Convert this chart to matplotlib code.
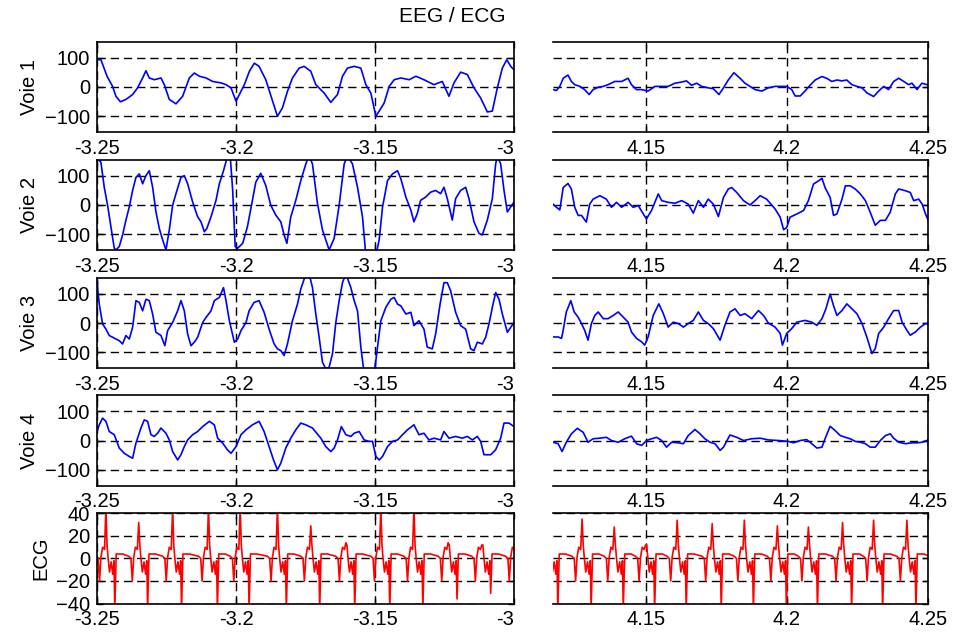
import numpy as np
import matplotlib.pyplot as plt

plt.rcParams['font.family'] = ['Liberation Sans', 'DejaVu Sans']

# time windows (s); trace times are stored as ms from the window start
LEFT_T0 = -3.25
RIGHT_T0 = 4.1171
LEFT_XLIM = (-3.25, -3.1)
RIGHT_XLIM = (4.1171, 4.25)
LEFT_TICKS = [-3.25, -3.2, -3.15, -3.1]
LEFT_TICK_LABELS = ["-3.25", "-3.2", "-3.15", "-3"]
RIGHT_TICKS = [4.15, 4.2, 4.25]
RIGHT_TICK_LABELS = ["4.15", "4.2", "4.25"]

CHANNELS = ["Voie 1", "Voie 2", "Voie 3", "Voie 4", "ECG"]
EEG_TICKS = [-100, 0, 100]
ECG_TICKS = [-40, -20, 0, 20, 40]

# EEG traces: (ms from window start, value)
V1_LEFT = [(0, 94), (1.4, 94), (3.6, 37), (5.6, 2), (6.8, -32), (8.4, -51), (10.4, -43), (12.8, -26),
           (14.6, -3), (16.4, 31), (17.6, 56), (18.8, 31), (20.6, 25), (23.0, 31), (24.2, 8), (26.0, -43),
           (28.4, -58), (30.8, -32), (33.2, 31), (35.0, 48), (36.8, 37), (39.2, 31), (41.6, 19), (44.6, 14),
           (46.4, 8), (48.2, -3), (50.0, -49), (51.2, -26), (53.0, 8), (54.8, 54), (56.6, 82), (58.3, 71),
           (60.7, 25), (62.8, -38), (64.9, -101), (66.7, -72), (68.5, -15), (70.3, 31), (72.7, 65), (74.5, 71),
           (76.9, 54), (78.7, 8), (81.7, -21), (84.1, -53), (86.5, -26), (88.3, 37), (90.1, 65), (92.5, 71),
           (94.9, 65), (96.7, 8), (98.5, -21), (100.3, -101), (101.5, -83), (103.3, -55), (105.1, 2),
           (106.9, 25), (109.3, 31), (112.3, 25), (114.7, 37), (117.6, 25), (121.2, 8), (124.2, 19),
           (126.6, -32), (128.4, 14), (130.8, 51), (133.2, 43), (135.6, -3), (138.0, -38), (140.4, -86),
           (142.2, -83), (144.0, -3), (145.8, 65), (147.4, 94), (148.8, 71), (150.0, 59)]
V1_RIGHT = [(0, -9), (1.2, -12), (2.4, 2), (3.6, 30), (5.3, 41), (6.5, 19), (7.7, 8), (9.5, 2), (11.2, -9),
            (12.8, -26), (14.2, -9), (16.0, -1), (17.8, 2), (19.5, 8), (21.9, 19), (24.3, 19), (26.6, 30),
            (27.8, 8), (29.6, -9), (31.4, -9), (33.7, -14), (36.1, 2), (38.5, 2), (40.8, 2), (43.2, 13),
            (45.6, 17), (47.3, 21), (49.1, 6), (50.9, 13), (52.7, 2), (55.0, -3), (56.8, -6), (58.8, -26),
            (60.4, -3), (62.1, 24), (64.1, 49), (66.3, 30), (68.0, 13), (69.8, 2), (71.6, -9), (74.0, -14),
            (76.3, -3), (78.7, 2), (81.1, 2), (82.8, 2), (84.6, -9), (85.8, -31), (87.6, -31), (89.3, -14),
            (91.1, 6), (92.9, 24), (95.3, 36), (97.0, 30), (98.8, 19), (100.6, 24), (102.4, 21), (104.1, 24),
            (105.9, 8), (107.7, 2), (109.5, -3), (111.2, -20), (113.6, -33), (115.4, -14), (117.2, 2),
            (118.9, -9), (120.7, 19), (122.5, 30), (124.3, 19), (126.0, 8), (127.2, 13), (129.0, -9),
            (130.7, 13), (132.5, 8), (133.4, 8)]

V2_LEFT = [(0, 170), (0.2, 160), (1.4, 147), (2.6, 61), (3.8, -1), (5.0, -75), (6.2, -149), (6.8, -155),
           (8.0, -143), (9.2, -103), (10.4, -52), (11.6, -7), (12.8, 50), (14.0, 95), (15.2, 107), (16.4, 73),
           (17.6, 101), (18.8, 118), (20.0, 61), (21.2, -24), (22.4, -81), (23.6, -120), (24.8, -155),
           (26.0, -86), (27.2, -1), (28.4, 39), (30.2, 95), (31.4, 101), (32.6, 73), (34.4, 10), (36.2, -41),
           (37.4, -58), (38.6, -92), (39.5, -81), (41.0, -41), (42.8, 16), (44.0, 73), (45.5, 118), (47.0, 170),
           (47.9, 170), (48.8, 50), (49.7, -143), (50.6, -149), (52.4, -132), (54.1, -75), (55.9, 16),
           (57.1, 78), (58.9, 109), (60.7, 67), (62.5, -1), (64.3, -35), (66.1, -58), (67.3, -103),
           (68.3, -132), (69.7, -41), (71.5, 16), (73.3, 84), (75.1, 141), (76.3, 170), (77.5, 141), (79.3, 5),
           (81.1, -86), (83.5, -155), (85.3, -115), (87.1, -1), (88.9, 141), (90.1, 170), (91.9, 141),
           (93.7, 61), (95.5, -41), (96.7, -175), (100.3, -175), (101.5, -120), (102.7, -7), (104.5, 84),
           (106.3, 107), (108.1, 118), (109.3, 90), (111.1, 27), (112.9, -18), (114.0, -58), (115.2, -30),
           (116.4, 16), (118.2, 27), (120.0, 44), (121.8, 50), (123.6, 39), (124.8, 61), (126.0, 22),
           (127.8, -52), (129.0, 22), (130.8, 50), (132.6, 61), (133.8, 22), (135.6, -58), (137.4, -98),
           (138.6, -103), (140.4, -52), (142.2, 22), (143.4, 141), (144.0, 170), (145.2, 141), (146.4, 50),
           (147.6, -24), (148.8, -7), (150.0, 10)]
V2_RIGHT = [(0, 3), (1.2, -8), (2.4, -17), (3.6, 60), (5.3, 74), (6.5, 55), (7.7, -8), (8.9, -36), (10.1, -36),
            (11.8, -59), (13.0, 3), (14.2, 20), (16.6, 32), (18.9, 20), (20.7, -8), (22.5, 9), (24.3, -8),
            (26.6, 9), (28.4, -8), (30.2, -2), (32.0, -31), (33.1, -48), (34.9, -19), (37.3, 38), (38.5, 15),
            (40.8, 9), (43.2, 6), (45.6, 15), (47.9, 3), (49.7, -28), (51.5, 15), (53.3, -8), (55.0, 20),
            (56.8, 3), (58.6, -40), (60.4, 26), (62.1, 55), (63.3, 60), (65.1, 43), (67.5, 15), (69.8, 0),
            (71.6, 15), (73.4, 32), (75.7, 20), (78.7, -14), (80.5, -42), (81.7, -85), (82.8, -78), (84.0, -42),
            (86.4, -31), (88.8, -19), (90.5, 15), (92.3, 72), (94.1, 83), (95.3, 92), (96.4, 60), (98.2, 26),
            (99.4, -36), (100.6, -31), (102.4, 20), (103.6, 66), (105.3, 66), (107.1, 55), (108.9, 38),
            (110.7, 15), (112.4, -25), (114.2, -70), (116.0, -53), (117.8, -53), (119.5, -25), (121.3, 38),
            (122.5, 55), (124.9, 49), (126.6, 43), (127.8, 15), (129.6, 20), (130.8, 3), (132.0, -31),
            (133.4, -63)]

V3_LEFT = [(0, 157), (0.2, 122), (0.8, 65), (2.0, -3), (3.2, -21), (4.4, -43), (5.6, -49), (6.8, -55),
           (8.0, -61), (9.2, -72), (10.4, -43), (11.6, -55), (12.8, -15), (14.0, 77), (15.2, 71), (16.4, 42),
           (17.6, 82), (18.8, 77), (20.0, 31), (21.2, -32), (23.0, -43), (24.4, -78), (25.4, -26), (27.2, 2),
           (29.0, 42), (30.2, 77), (31.4, 42), (32.6, -38), (33.8, -78), (35.0, -66), (36.2, -49), (38.0, 2),
           (39.2, 19), (41.0, 42), (42.2, 77), (44.0, 88), (45.5, 122), (46.4, 77), (47.6, 8), (49.4, -66),
           (50.6, -55), (51.8, -26), (53.6, 2), (54.7, 42), (56.5, 71), (58.3, 77), (60.1, 37), (61.9, -21),
           (63.7, -72), (64.9, -89), (66.1, -95), (67.3, -112), (68.5, -72), (70.3, 8), (72.1, 65), (73.3, 117),
           (74.5, 151), (76.3, 170), (77.5, 122), (78.7, 31), (79.9, -49), (81.1, -135), (82.3, -158),
           (83.5, -152), (84.7, -106), (85.9, 2), (87.1, 77), (88.3, 139), (89.5, 170), (91.3, 122), (92.5, 77),
           (93.7, 42), (94.9, -83), (96.1, -175), (99.7, -175), (100.9, -83), (102.1, 8), (103.9, 54),
           (105.7, 82), (106.9, 88), (108.1, 65), (109.3, 59), (111.1, 31), (112.9, 37), (114.0, -9),
           (115.8, 8), (117.6, -21), (118.8, -83), (120.6, -89), (121.8, -38), (123.4, 65), (124.8, 139),
           (126.0, 139), (127.2, 111), (129.0, 37), (130.8, -9), (132.6, -21), (134.4, -89), (135.6, -95),
           (136.8, -66), (138.6, -72), (139.8, -49), (141.0, -3), (142.2, 54), (143.4, 105), (144.6, 82),
           (145.8, 31), (147.6, -32), (148.8, -15), (150.0, 2)]
V3_RIGHT = [(0, -48), (1.8, -48), (3.0, -53), (3.6, -25), (4.7, 38), (6.3, 77), (7.5, 38), (8.9, 20),
            (10.1, -2), (11.2, -25), (12.4, -59), (13.6, -2), (14.8, 26), (16.0, 38), (17.8, 15), (19.5, 15),
            (21.3, 26), (23.1, 38), (24.9, 20), (26.6, 3), (27.8, -31), (29.6, -53), (31.4, -65), (32.5, -76),
            (33.7, -48), (35.5, 26), (37.5, 66), (39.1, 32), (40.8, -14), (42.6, 3), (44.4, -2), (46.2, -14),
            (47.9, -2), (49.7, 9), (51.5, 38), (53.3, 9), (55.0, -2), (56.8, -19), (59.2, -59), (60.9, -8),
            (62.7, 38), (64.5, 49), (66.3, 26), (68.0, 32), (70.4, 15), (72.8, 43), (74.6, 26), (76.3, 0),
            (78.7, -14), (80.5, -36), (81.3, -76), (82.8, -36), (84.6, -19), (86.4, 3), (89.3, 9), (91.7, 3),
            (93.5, -8), (95.3, 15), (96.7, 49), (98.2, 100), (99.4, 60), (100.6, 26), (102.4, 43), (104.1, 66),
            (105.9, 49), (107.7, 32), (109.5, -2), (111.2, -48), (113.0, -105), (114.2, -88), (115.4, -36),
            (117.2, -14), (118.9, 15), (120.7, 43), (122.5, 43), (123.7, 3), (125.4, -25), (126.6, -42),
            (128.4, -31), (130.2, -14), (132.0, -2), (133.4, -2)]

V4_LEFT = [(0, 31), (0.8, 54), (2.0, 77), (3.2, 66), (4.4, 31), (6.2, 20), (8.0, -26), (9.8, -44), (11.6, -55),
           (12.8, -61), (14.0, -9), (15.8, 43), (17.0, 71), (18.2, 66), (19.4, 20), (20.6, 14), (21.8, 25),
           (23.0, 43), (24.8, 25), (26.0, 2), (27.2, -38), (29.0, -67), (30.2, -49), (31.4, -21), (32.6, 2),
           (34.4, 20), (36.2, 31), (38.0, 48), (40.4, 66), (42.2, 54), (43.4, 8), (45.2, -9), (46.9, -32),
           (48.2, -44), (50.0, -21), (51.8, 20), (53.6, 37), (55.9, 54), (58.3, 66), (60.1, 31), (61.9, -21),
           (63.5, -67), (64.9, -101), (66.1, -78), (67.9, -26), (69.7, 8), (71.5, 37), (73.3, 60), (75.1, 54),
           (77.5, 43), (80.5, 8), (82.3, -21), (84.1, -38), (85.3, -26), (86.5, 2), (87.9, 48), (89.5, 20),
           (91.3, 14), (92.5, 25), (94.3, 31), (96.1, 2), (97.9, -3), (99.1, -3), (100.3, -55), (101.5, -67),
           (102.7, -55), (104.5, -21), (106.3, -3), (108.1, 2), (109.9, 20), (111.7, 37), (114.0, 54),
           (115.8, 20), (117.6, 25), (119.4, 2), (121.2, 8), (123.6, 2), (124.8, 31), (126.6, 8), (129.0, 14),
           (131.4, 8), (133.2, 14), (135.0, 2), (136.8, 14), (138.0, -3), (139.2, -49), (141.6, -49),
           (143.4, -32), (145.2, 8), (146.4, 60), (148.2, 60), (150.0, 48)]
V4_RIGHT = [(0, -6), (1.8, -11), (3.2, -38), (4.7, -6), (6.5, 23), (8.6, 42), (10.7, 28), (12.4, -6),
            (14.2, 6), (16.6, 8), (18.9, 11), (20.7, 0), (23.1, -6), (25.4, 6), (27.8, 15), (29.6, -11),
            (31.4, -17), (33.1, 0), (34.9, 6), (36.7, 11), (38.5, 0), (40.2, -23), (42.0, -6), (44.4, -8),
            (46.2, -11), (47.9, 17), (50.3, 38), (52.1, 23), (53.8, 6), (55.6, -6), (57.4, -11), (59.2, -34),
            (60.4, -23), (62.7, 19), (65.1, 11), (67.5, 0), (70.4, 6), (73.4, 8), (76.3, 2), (79.9, 0),
            (83.4, -3), (85.2, -8), (87.6, 0), (89.9, 3), (91.7, -11), (93.5, -26), (95.3, -23), (96.4, 6),
            (98.2, 49), (100.0, 34), (101.8, 17), (103.6, 11), (105.3, 6), (107.1, -3), (108.9, -6),
            (110.7, -11), (112.4, -23), (114.2, -23), (116.0, 0), (117.8, 17), (119.5, 23), (120.7, 8),
            (122.5, -6), (124.9, -11), (127.2, -8), (129.0, -8), (130.8, -6), (132.5, 0), (133.4, 8)]

# ECG: R-peak times (ms from window start), R height and S depth of each beat,
# and the beat shape around the R peak (ms offset, value; None = R / S)
ECG_LEFT_BEATS = [-8.8, 3.2, 15.0, 27.2, 40.1, 51.5, 64.9, 76.9, 89.5, 102.1, 114.0, 126.3, 138.4, 150.6]
ECG_LEFT_R = [40, 45, 32, 45, 45, 45, 45, 29, 14, 45, 45, 14, 12, 30]
ECG_LEFT_S = [-45, -45, -45, -45, -45, -45, -45, -45, -45, -45, -45, -36, -31, -45]
ECG_RIGHT_BEATS = [-1.5, 10.3, 21.7, 32.8, 44.0, 56.4, 67.8, 79.5, 90.5, 102.6, 113.6, 125.4, 137.0]
ECG_RIGHT_R = [30, 35, 28, 12, 34, 31, 34, 29, 28, 32, 34, 34, 30]
ECG_RIGHT_S = [-45] * 13
BEAT_OFFSETS = [-3.6, -2.8, -2.3, -1.8, -1.2, -0.5, 0, 0.4, 0.8, 1.3, 1.9, 2.5, 2.9, 3.2, 3.7, 6.0]
BEAT_SHAPE = [2, 0, -20, 1, 10, 8, 'R', 12, 0, -12, -3, -14, -2, 'S', 4, 4]


def trace(pairs, t0):
    ms, vals = zip(*pairs)
    return t0 + np.array(ms) / 1000.0, np.array(vals, dtype=float)


def ecg_trace(beats, r_vals, s_vals, t0):
    ts, vs = [], []
    for tb, r, s in zip(beats, r_vals, s_vals):
        for off, v in zip(BEAT_OFFSETS, BEAT_SHAPE):
            ts.append(tb + off)
            vs.append(r if v == 'R' else (s if v == 'S' else v))
    return t0 + np.array(ts) / 1000.0, np.array(vs, dtype=float)


left_data = [trace(V1_LEFT, LEFT_T0), trace(V2_LEFT, LEFT_T0), trace(V3_LEFT, LEFT_T0),
             trace(V4_LEFT, LEFT_T0), ecg_trace(ECG_LEFT_BEATS, ECG_LEFT_R, ECG_LEFT_S, LEFT_T0)]
right_data = [trace(V1_RIGHT, RIGHT_T0), trace(V2_RIGHT, RIGHT_T0), trace(V3_RIGHT, RIGHT_T0),
              trace(V4_RIGHT, RIGHT_T0), ecg_trace(ECG_RIGHT_BEATS, ECG_RIGHT_R, ECG_RIGHT_S, RIGHT_T0)]

fig = plt.figure(figsize=(9.54, 6.33), dpi=100)
row_bottoms = [0.7915, 0.6051, 0.4186, 0.2330, 0.0466]
row_h = 0.1422
FS = 14.5
grid_style = (0, (6, 3.5))


def style_axis(ax, is_ecg):
    if is_ecg:
        ax.set_ylim(-40, 40)
        ax.set_yticks(ECG_TICKS)
    else:
        ax.set_ylim(-155, 155)
        ax.set_yticks(EEG_TICKS)
    ax.grid(True, color='k', linestyle=grid_style, linewidth=1.0)
    ax.tick_params(direction='in', top=True, right=True, length=4, width=1.0, labelsize=FS, pad=5)
    for sp in ax.spines.values():
        sp.set_linewidth(1.2)


for i, name in enumerate(CHANNELS):
    is_ecg = name == "ECG"
    color = 'r' if is_ecg else 'b'

    axl = fig.add_axes([0.1017, row_bottoms[i], 0.4371, row_h])
    tl, vl = left_data[i]
    axl.plot(tl, vl, color=color, linewidth=1.2)
    axl.set_xlim(*LEFT_XLIM)
    axl.set_xticks(LEFT_TICKS)
    labels = axl.set_xticklabels(LEFT_TICK_LABELS)
    labels[-1].set_horizontalalignment('right')
    style_axis(axl, is_ecg)
    axl.set_ylabel(name, fontsize=FS)

    axr = fig.add_axes([0.5797, row_bottoms[i], 0.3931, row_h])
    tr, vr = right_data[i]
    axr.plot(tr, vr, color=color, linewidth=1.2)
    axr.set_xlim(*RIGHT_XLIM)
    axr.set_xticks(RIGHT_TICKS)
    axr.set_xticklabels(RIGHT_TICK_LABELS)
    style_axis(axr, is_ecg)
    axr.spines['left'].set_visible(False)
    axr.tick_params(left=False, labelleft=False)

fig.text(452 / 954, 1 - 17 / 633, "EEG / ECG", ha='center', va='center', fontsize=15)

fig.savefig("out.png", dpi=100)
